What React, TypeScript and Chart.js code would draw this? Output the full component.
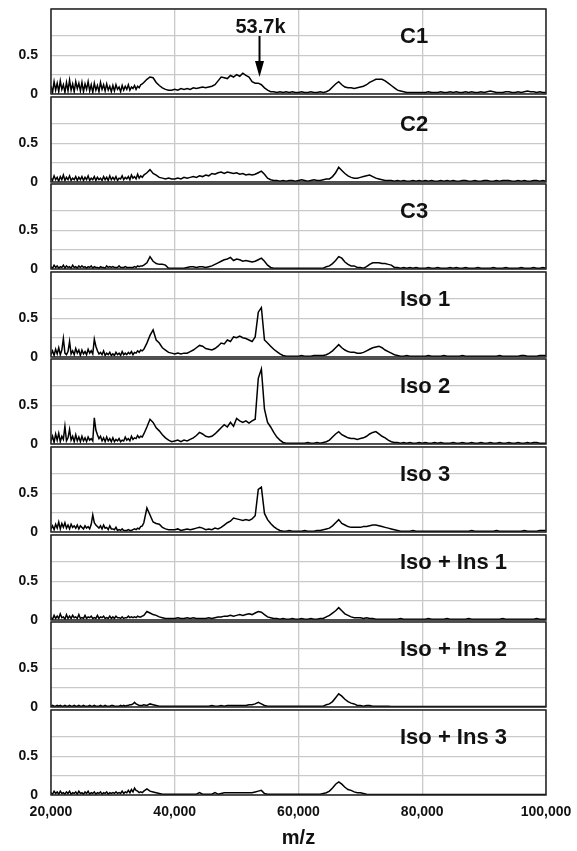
import React, { useEffect, useRef } from 'react';
import { Chart, registerables } from 'chart.js';

Chart.register(...registerables);

// m/z sampling positions (Da): 250 Da steps up to 34,750, then 500 Da steps
const MZ: number[] = [
  20000, 20250, 20500, 20750, 21000, 21250, 21500, 21750, 22000, 22250,
  22500, 22750, 23000, 23250, 23500, 23750, 24000, 24250, 24500, 24750,
  25000, 25250, 25500, 25750, 26000, 26250, 26500, 26750, 27000, 27250,
  27500, 27750, 28000, 28250, 28500, 28750, 29000, 29250, 29500, 29750,
  30000, 30250, 30500, 30750, 31000, 31250, 31500, 31750, 32000, 32250,
  32500, 32750, 33000, 33250, 33500, 33750, 34000, 34250, 34500, 34750,
  35000, 35500, 36000, 36500, 37000, 37500, 38000, 38500, 39000, 39500,
  40000, 40500, 41000, 41500, 42000, 42500, 43000, 43500, 44000, 44500,
  45000, 45500, 46000, 46500, 47000, 47500, 48000, 48500, 49000, 49500,
  50000, 50500, 51000, 51500, 52000, 52500, 53000, 53500, 54000, 54500,
  55000, 55500, 56000, 56500, 57000, 57500, 58000, 58500, 59000, 59500,
  60000, 60500, 61000, 61500, 62000, 62500, 63000, 63500, 64000, 64500,
  65000, 65500, 66000, 66500, 67000, 67500, 68000, 68500, 69000, 69500,
  70000, 70500, 71000, 71500, 72000, 72500, 73000, 73500, 74000, 74500,
  75000, 75500, 76000, 76500, 77000, 77500, 78000, 78500, 79000, 79500,
  80000, 80500, 81000, 81500, 82000, 82500, 83000, 83500, 84000, 84500,
  85000, 85500, 86000, 86500, 87000, 87500, 88000, 88500, 89000, 89500,
  90000, 90500, 91000, 91500, 92000, 92500, 93000, 93500, 94000, 94500,
  95000, 95500, 96000, 96500, 97000, 97500, 98000, 98500, 99000, 99500,
  100000,
];

const C1: number[] = [
  0.10, 0.02, 0.16, 0.05, 0.14, 0.03, 0.17, 0.06, 0.12, 0.02,
  0.15, 0.04, 0.18, 0.05, 0.13, 0.03, 0.16, 0.07, 0.14, 0.04,
  0.15, 0.03, 0.13, 0.06, 0.16, 0.04, 0.12, 0.02, 0.14, 0.05,
  0.11, 0.03, 0.15, 0.06, 0.12, 0.04, 0.13, 0.05, 0.10, 0.03,
  0.11, 0.04, 0.12, 0.06, 0.09, 0.03, 0.11, 0.05, 0.10, 0.06,
  0.12, 0.05, 0.09, 0.07, 0.11, 0.06, 0.10, 0.08, 0.12, 0.13,
  0.15, 0.19, 0.22, 0.21, 0.15, 0.11, 0.08, 0.06, 0.05, 0.05,
  0.06, 0.05, 0.07, 0.06, 0.07, 0.06, 0.08, 0.07, 0.08, 0.09,
  0.08, 0.09, 0.10, 0.12, 0.17, 0.22, 0.21, 0.20, 0.24, 0.22,
  0.25, 0.23, 0.27, 0.24, 0.22, 0.16, 0.14, 0.14, 0.12, 0.08,
  0.05, 0.03, 0.03, 0.02, 0.03, 0.02, 0.03, 0.02, 0.03, 0.02,
  0.02, 0.03, 0.02, 0.02, 0.03, 0.02, 0.02, 0.03, 0.02, 0.03,
  0.05, 0.09, 0.13, 0.16, 0.12, 0.09, 0.08, 0.08, 0.07, 0.08,
  0.09, 0.10, 0.12, 0.15, 0.17, 0.19, 0.19, 0.19, 0.17, 0.14,
  0.11, 0.08, 0.05, 0.04, 0.03, 0.02, 0.02, 0.02, 0.02, 0.02,
  0.02, 0.02, 0.03, 0.02, 0.02, 0.02, 0.03, 0.02, 0.02, 0.03,
  0.02, 0.03, 0.02, 0.02, 0.03, 0.02, 0.03, 0.02, 0.02, 0.03,
  0.02, 0.03, 0.04, 0.03, 0.02, 0.02, 0.02, 0.03, 0.03, 0.02,
  0.02, 0.03, 0.02, 0.03, 0.04, 0.03, 0.03, 0.02, 0.03, 0.02,
  0.02,
];

const C2: number[] = [
  0.05, 0.02, 0.08, 0.03, 0.06, 0.01, 0.07, 0.03, 0.09, 0.02,
  0.06, 0.03, 0.08, 0.02, 0.05, 0.03, 0.07, 0.02, 0.06, 0.03,
  0.07, 0.02, 0.06, 0.03, 0.08, 0.02, 0.05, 0.03, 0.07, 0.02,
  0.06, 0.03, 0.05, 0.02, 0.07, 0.03, 0.06, 0.02, 0.08, 0.03,
  0.06, 0.03, 0.07, 0.02, 0.05, 0.04, 0.08, 0.03, 0.06, 0.04,
  0.07, 0.03, 0.09, 0.05, 0.07, 0.04, 0.10, 0.05, 0.08, 0.06,
  0.09, 0.12, 0.16, 0.11, 0.09, 0.06, 0.05, 0.04, 0.05, 0.04,
  0.04, 0.05, 0.04, 0.06, 0.05, 0.06, 0.07, 0.06, 0.08, 0.07,
  0.09, 0.08, 0.11, 0.10, 0.12, 0.13, 0.11, 0.13, 0.12, 0.11,
  0.12, 0.10, 0.11, 0.09, 0.10, 0.09, 0.10, 0.12, 0.14, 0.10,
  0.05, 0.03, 0.02, 0.02, 0.01, 0.02, 0.01, 0.02, 0.02, 0.01,
  0.02, 0.03, 0.02, 0.01, 0.02, 0.03, 0.02, 0.02, 0.03, 0.04,
  0.04, 0.07, 0.12, 0.19, 0.15, 0.11, 0.08, 0.06, 0.05, 0.05,
  0.06, 0.07, 0.08, 0.09, 0.07, 0.05, 0.04, 0.03, 0.02, 0.02,
  0.02, 0.01, 0.02, 0.01, 0.02, 0.01, 0.01, 0.02, 0.01, 0.02,
  0.01, 0.02, 0.01, 0.02, 0.01, 0.01, 0.02, 0.01, 0.02, 0.01,
  0.02, 0.01, 0.01, 0.02, 0.02, 0.01, 0.01, 0.02, 0.01, 0.01,
  0.02, 0.02, 0.01, 0.01, 0.02, 0.01, 0.02, 0.02, 0.02, 0.01,
  0.01, 0.02, 0.01, 0.02, 0.01, 0.01, 0.02, 0.02, 0.01, 0.02,
  0.01,
];

const C3: number[] = [
  0.03, 0.01, 0.05, 0.02, 0.04, 0.01, 0.03, 0.02, 0.05, 0.01,
  0.04, 0.02, 0.03, 0.01, 0.05, 0.02, 0.03, 0.01, 0.04, 0.02,
  0.04, 0.02, 0.03, 0.01, 0.03, 0.02, 0.04, 0.01, 0.03, 0.02,
  0.02, 0.01, 0.03, 0.02, 0.02, 0.01, 0.04, 0.02, 0.03, 0.02,
  0.03, 0.02, 0.02, 0.02, 0.04, 0.02, 0.02, 0.02, 0.03, 0.02,
  0.02, 0.02, 0.02, 0.02, 0.03, 0.02, 0.04, 0.03, 0.04, 0.04,
  0.05, 0.08, 0.16, 0.10, 0.07, 0.06, 0.06, 0.05, 0.01, 0.01,
  0.01, 0.01, 0.01, 0.01, 0.02, 0.03, 0.03, 0.02, 0.03, 0.03,
  0.02, 0.03, 0.04, 0.06, 0.08, 0.10, 0.12, 0.13, 0.15, 0.11,
  0.13, 0.12, 0.10, 0.11, 0.10, 0.09, 0.10, 0.12, 0.14, 0.10,
  0.05, 0.02, 0.01, 0.01, 0.01, 0.01, 0.01, 0.01, 0.01, 0.01,
  0.01, 0.01, 0.01, 0.01, 0.01, 0.01, 0.01, 0.01, 0.01, 0.03,
  0.04, 0.07, 0.11, 0.16, 0.14, 0.09, 0.06, 0.04, 0.04, 0.02,
  0.02, 0.01, 0.03, 0.06, 0.08, 0.08, 0.08, 0.07, 0.07, 0.06,
  0.05, 0.02, 0.02, 0.01, 0.02, 0.01, 0.02, 0.01, 0.02, 0.01,
  0.01, 0.01, 0.02, 0.01, 0.01, 0.02, 0.01, 0.01, 0.01, 0.02,
  0.01, 0.02, 0.01, 0.01, 0.02, 0.01, 0.01, 0.01, 0.02, 0.01,
  0.01, 0.01, 0.01, 0.02, 0.01, 0.01, 0.01, 0.02, 0.01, 0.01,
  0.01, 0.01, 0.02, 0.01, 0.01, 0.01, 0.02, 0.01, 0.01, 0.02,
  0.01,
];

const ISO_1: number[] = [
  0.03, 0.08, 0.02, 0.10, 0.04, 0.12, 0.03, 0.09, 0.24, 0.05,
  0.03, 0.07, 0.20, 0.04, 0.08, 0.03, 0.11, 0.05, 0.09, 0.02,
  0.09, 0.04, 0.07, 0.03, 0.10, 0.05, 0.08, 0.04, 0.23, 0.14,
  0.08, 0.04, 0.06, 0.03, 0.08, 0.02, 0.05, 0.03, 0.06, 0.02,
  0.04, 0.02, 0.06, 0.03, 0.05, 0.02, 0.07, 0.03, 0.05, 0.03,
  0.06, 0.04, 0.07, 0.03, 0.06, 0.05, 0.08, 0.06, 0.09, 0.08,
  0.10, 0.18, 0.28, 0.35, 0.22, 0.18, 0.12, 0.09, 0.06, 0.05,
  0.04, 0.05, 0.04, 0.05, 0.05, 0.07, 0.09, 0.12, 0.15, 0.14,
  0.11, 0.10, 0.09, 0.11, 0.14, 0.18, 0.17, 0.22, 0.20, 0.26,
  0.25, 0.27, 0.25, 0.24, 0.22, 0.20, 0.26, 0.58, 0.64, 0.22,
  0.18, 0.14, 0.10, 0.07, 0.04, 0.02, 0.01, 0.01, 0.01, 0.01,
  0.01, 0.02, 0.01, 0.01, 0.01, 0.02, 0.02, 0.02, 0.02, 0.03,
  0.05, 0.08, 0.12, 0.16, 0.12, 0.09, 0.07, 0.06, 0.06, 0.05,
  0.05, 0.06, 0.08, 0.10, 0.12, 0.13, 0.14, 0.12, 0.09, 0.07,
  0.05, 0.03, 0.02, 0.01, 0.01, 0.02, 0.01, 0.01, 0.01, 0.01,
  0.01, 0.01, 0.02, 0.01, 0.01, 0.01, 0.01, 0.02, 0.01, 0.01,
  0.01, 0.01, 0.01, 0.02, 0.01, 0.01, 0.01, 0.01, 0.01, 0.01,
  0.01, 0.01, 0.01, 0.01, 0.01, 0.02, 0.01, 0.01, 0.01, 0.01,
  0.01, 0.01, 0.02, 0.02, 0.01, 0.01, 0.01, 0.01, 0.02, 0.02,
  0.02,
];

const ISO_2: number[] = [
  0.04, 0.10, 0.02, 0.13, 0.05, 0.14, 0.03, 0.10, 0.06, 0.23,
  0.04, 0.08, 0.19, 0.05, 0.10, 0.03, 0.12, 0.04, 0.09, 0.03,
  0.10, 0.04, 0.08, 0.03, 0.09, 0.05, 0.07, 0.04, 0.34, 0.18,
  0.12, 0.07, 0.10, 0.04, 0.08, 0.03, 0.09, 0.04, 0.07, 0.03,
  0.08, 0.03, 0.06, 0.04, 0.07, 0.03, 0.05, 0.04, 0.09, 0.05,
  0.07, 0.04, 0.10, 0.06, 0.08, 0.07, 0.11, 0.08, 0.10, 0.09,
  0.13, 0.22, 0.32, 0.28, 0.21, 0.17, 0.12, 0.08, 0.05, 0.03,
  0.04, 0.05, 0.03, 0.05, 0.04, 0.06, 0.08, 0.11, 0.15, 0.13,
  0.10, 0.09, 0.10, 0.13, 0.17, 0.21, 0.25, 0.22, 0.28, 0.23,
  0.33, 0.30, 0.28, 0.30, 0.27, 0.30, 0.32, 0.85, 0.97, 0.45,
  0.28, 0.22, 0.15, 0.09, 0.05, 0.02, 0.01, 0.01, 0.01, 0.01,
  0.01, 0.01, 0.01, 0.02, 0.01, 0.01, 0.02, 0.01, 0.02, 0.03,
  0.05, 0.09, 0.13, 0.16, 0.12, 0.10, 0.08, 0.07, 0.07, 0.06,
  0.07, 0.08, 0.10, 0.13, 0.15, 0.16, 0.13, 0.10, 0.08, 0.05,
  0.03, 0.02, 0.02, 0.01, 0.02, 0.01, 0.02, 0.01, 0.01, 0.02,
  0.01, 0.02, 0.01, 0.01, 0.02, 0.01, 0.02, 0.01, 0.01, 0.01,
  0.02, 0.01, 0.01, 0.02, 0.01, 0.01, 0.02, 0.01, 0.01, 0.02,
  0.01, 0.01, 0.02, 0.01, 0.01, 0.02, 0.01, 0.01, 0.02, 0.01,
  0.01, 0.02, 0.01, 0.01, 0.02, 0.01, 0.02, 0.02, 0.01, 0.01,
  0.01,
];

const ISO_3: number[] = [
  0.04, 0.08, 0.03, 0.10, 0.05, 0.13, 0.04, 0.11, 0.06, 0.12,
  0.05, 0.09, 0.04, 0.10, 0.06, 0.08, 0.05, 0.09, 0.04, 0.08,
  0.06, 0.04, 0.08, 0.05, 0.07, 0.04, 0.10, 0.22, 0.12, 0.09,
  0.07, 0.05, 0.08, 0.04, 0.09, 0.05, 0.06, 0.03, 0.08, 0.04,
  0.04, 0.03, 0.06, 0.02, 0.03, 0.02, 0.04, 0.02, 0.02, 0.02,
  0.03, 0.02, 0.02, 0.03, 0.04, 0.03, 0.05, 0.04, 0.07, 0.08,
  0.12, 0.31, 0.22, 0.13, 0.11, 0.10, 0.06, 0.04, 0.03, 0.03,
  0.03, 0.04, 0.02, 0.03, 0.04, 0.03, 0.04, 0.05, 0.06, 0.05,
  0.03, 0.04, 0.03, 0.05, 0.04, 0.06, 0.09, 0.12, 0.14, 0.18,
  0.17, 0.16, 0.15, 0.16, 0.15, 0.17, 0.21, 0.55, 0.58, 0.24,
  0.16, 0.11, 0.07, 0.04, 0.02, 0.01, 0.01, 0.02, 0.01, 0.01,
  0.01, 0.01, 0.02, 0.01, 0.01, 0.01, 0.02, 0.02, 0.03, 0.04,
  0.05, 0.08, 0.12, 0.16, 0.11, 0.09, 0.07, 0.06, 0.06, 0.06,
  0.06, 0.07, 0.07, 0.08, 0.09, 0.09, 0.08, 0.07, 0.06, 0.05,
  0.04, 0.03, 0.02, 0.01, 0.01, 0.01, 0.01, 0.02, 0.01, 0.01,
  0.01, 0.01, 0.01, 0.01, 0.01, 0.01, 0.01, 0.01, 0.01, 0.01,
  0.01, 0.01, 0.01, 0.01, 0.01, 0.01, 0.02, 0.01, 0.01, 0.01,
  0.01, 0.01, 0.01, 0.01, 0.02, 0.01, 0.01, 0.01, 0.01, 0.01,
  0.01, 0.01, 0.01, 0.02, 0.01, 0.01, 0.01, 0.01, 0.02, 0.02,
  0.02,
];

const ISO_INS_1: number[] = [
  0.03, 0.01, 0.06, 0.02, 0.05, 0.02, 0.08, 0.03, 0.04, 0.01,
  0.07, 0.02, 0.05, 0.02, 0.06, 0.03, 0.04, 0.02, 0.07, 0.02,
  0.03, 0.02, 0.06, 0.02, 0.04, 0.03, 0.05, 0.02, 0.03, 0.02,
  0.06, 0.02, 0.04, 0.03, 0.05, 0.02, 0.03, 0.02, 0.05, 0.02,
  0.04, 0.02, 0.05, 0.03, 0.03, 0.02, 0.04, 0.02, 0.03, 0.03,
  0.05, 0.03, 0.04, 0.03, 0.04, 0.03, 0.05, 0.04, 0.04, 0.05,
  0.06, 0.11, 0.09, 0.07, 0.06, 0.04, 0.03, 0.02, 0.02, 0.02,
  0.02, 0.03, 0.02, 0.02, 0.03, 0.02, 0.03, 0.02, 0.02, 0.02,
  0.02, 0.03, 0.02, 0.03, 0.04, 0.04, 0.05, 0.05, 0.06, 0.05,
  0.06, 0.07, 0.06, 0.07, 0.08, 0.07, 0.09, 0.11, 0.10, 0.07,
  0.04, 0.03, 0.02, 0.02, 0.01, 0.02, 0.01, 0.01, 0.02, 0.01,
  0.01, 0.02, 0.01, 0.01, 0.02, 0.01, 0.01, 0.02, 0.02, 0.04,
  0.06, 0.09, 0.12, 0.16, 0.12, 0.08, 0.06, 0.04, 0.03, 0.03,
  0.03, 0.02, 0.03, 0.02, 0.02, 0.01, 0.01, 0.01, 0.01, 0.01,
  0.01, 0.01, 0.01, 0.02, 0.01, 0.01, 0.01, 0.01, 0.01, 0.01,
  0.01, 0.01, 0.02, 0.01, 0.01, 0.01, 0.01, 0.01, 0.02, 0.01,
  0.01, 0.01, 0.01, 0.01, 0.01, 0.02, 0.01, 0.01, 0.01, 0.01,
  0.01, 0.01, 0.01, 0.01, 0.01, 0.01, 0.02, 0.01, 0.01, 0.01,
  0.01, 0.01, 0.01, 0.01, 0.01, 0.01, 0.01, 0.02, 0.01, 0.01,
  0.01,
];

const ISO_INS_2: number[] = [
  0.01, 0.02, 0.01, 0.01, 0.02, 0.01, 0.02, 0.01, 0.01, 0.02,
  0.01, 0.01, 0.02, 0.01, 0.01, 0.02, 0.01, 0.01, 0.02, 0.01,
  0.01, 0.02, 0.01, 0.01, 0.01, 0.02, 0.01, 0.01, 0.02, 0.01,
  0.01, 0.01, 0.02, 0.01, 0.01, 0.02, 0.01, 0.01, 0.01, 0.02,
  0.02, 0.01, 0.01, 0.01, 0.01, 0.02, 0.01, 0.02, 0.01, 0.02,
  0.02, 0.03, 0.03, 0.04, 0.06, 0.04, 0.03, 0.02, 0.02, 0.02,
  0.03, 0.02, 0.04, 0.03, 0.02, 0.01, 0.01, 0.01, 0.01, 0.01,
  0.01, 0.01, 0.01, 0.01, 0.01, 0.01, 0.01, 0.01, 0.01, 0.01,
  0.01, 0.01, 0.02, 0.01, 0.01, 0.02, 0.01, 0.02, 0.02, 0.02,
  0.02, 0.02, 0.02, 0.02, 0.03, 0.03, 0.04, 0.06, 0.04, 0.02,
  0.01, 0.01, 0.01, 0.01, 0.01, 0.01, 0.01, 0.01, 0.01, 0.01,
  0.01, 0.01, 0.01, 0.01, 0.01, 0.01, 0.01, 0.01, 0.01, 0.03,
  0.04, 0.07, 0.12, 0.17, 0.14, 0.10, 0.07, 0.05, 0.04, 0.02,
  0.02, 0.01, 0.02, 0.02, 0.01, 0.01, 0.01, 0.01, 0.01, 0.01,
  0.005, 0.005, 0.005, 0.005, 0.005, 0.005, 0.005, 0.005, 0.005, 0.005,
  0.005, 0.005, 0.005, 0.005, 0.005, 0.005, 0.005, 0.005, 0.005, 0.005,
  0.005, 0.005, 0.005, 0.005, 0.005, 0.005, 0.005, 0.005, 0.005, 0.005,
  0.005, 0.005, 0.005, 0.005, 0.005, 0.005, 0.005, 0.005, 0.005, 0.005,
  0.005, 0.005, 0.005, 0.005, 0.005, 0.005, 0.005, 0.005, 0.005, 0.005,
  0.005,
];

const ISO_INS_3: number[] = [
  0.03, 0.01, 0.05, 0.02, 0.04, 0.01, 0.05, 0.02, 0.03, 0.01,
  0.04, 0.02, 0.05, 0.01, 0.03, 0.02, 0.04, 0.01, 0.05, 0.02,
  0.03, 0.01, 0.04, 0.02, 0.05, 0.01, 0.03, 0.02, 0.04, 0.01,
  0.03, 0.02, 0.04, 0.01, 0.03, 0.02, 0.04, 0.01, 0.03, 0.02,
  0.03, 0.02, 0.04, 0.02, 0.03, 0.02, 0.05, 0.02, 0.04, 0.03,
  0.06, 0.03, 0.07, 0.04, 0.09, 0.06, 0.05, 0.03, 0.04, 0.03,
  0.05, 0.08, 0.05, 0.04, 0.03, 0.02, 0.01, 0.01, 0.01, 0.01,
  0.01, 0.01, 0.01, 0.01, 0.01, 0.01, 0.01, 0.01, 0.03, 0.01,
  0.01, 0.01, 0.01, 0.03, 0.01, 0.02, 0.03, 0.03, 0.03, 0.03,
  0.03, 0.03, 0.03, 0.03, 0.03, 0.03, 0.04, 0.05, 0.06, 0.02,
  0.01, 0.01, 0.01, 0.01, 0.01, 0.01, 0.01, 0.01, 0.01, 0.01,
  0.01, 0.01, 0.01, 0.01, 0.01, 0.01, 0.01, 0.01, 0.02, 0.03,
  0.05, 0.09, 0.14, 0.17, 0.14, 0.10, 0.07, 0.06, 0.04, 0.03,
  0.03, 0.02, 0.01, 0.005, 0.005, 0.005, 0.005, 0.005, 0.005, 0.005,
  0.005, 0.005, 0.005, 0.005, 0.005, 0.005, 0.005, 0.005, 0.005, 0.005,
  0.005, 0.005, 0.005, 0.005, 0.005, 0.005, 0.005, 0.005, 0.005, 0.005,
  0.005, 0.005, 0.005, 0.005, 0.005, 0.005, 0.005, 0.005, 0.005, 0.005,
  0.005, 0.005, 0.005, 0.005, 0.005, 0.005, 0.005, 0.005, 0.005, 0.005,
  0.005, 0.005, 0.005, 0.005, 0.005, 0.005, 0.005, 0.005, 0.005, 0.005,
  0.005,
];

const PANEL_LABELS: string[] = ['C1', 'C2', 'C3', 'Iso 1', 'Iso 2', 'Iso 3', 'Iso + Ins 1', 'Iso + Ins 2', 'Iso + Ins 3'];
const PANEL_SERIES: number[][] = [C1, C2, C3, ISO_1, ISO_2, ISO_3, ISO_INS_1, ISO_INS_2, ISO_INS_3];
const X_TICKS: number[] = [20000, 40000, 60000, 80000, 100000];
const Y_LABELLED: number[] = [0, 0.5];
const Y_STEP = 0.25;
const Y_MAX = 1.1;
const X_MIN = 20000;
const X_MAX = 100000;
const X_TITLE = 'm/z';
const ANNOT_MZ = 53700;
const ANNOT_TIP = 0.22;
const ANNOT_LABEL = '53.7k';

// layout (pixels)
const FONT = '"Liberation Sans", Arial, Helvetica, sans-serif';
const PAGE_W = 577;
const PAGE_H = 851;
const PLOT_LEFT = 51;
const PLOT_RIGHT_PAD = 31;
const FIRST_TOP = 9;
const PITCH = 87.6;
const PANEL_H = 85;
const PAD = 12;
const GRID = '#c9c9c9';

const panelPlugin = {
  id: 'panelDecor',
  afterDatasetsDraw(chart: any, _args: any, opts: any) {
    const { ctx, chartArea: a } = chart;
    ctx.save();
    ctx.strokeStyle = '#222';
    ctx.lineWidth = 1.5;
    ctx.strokeRect(a.left, a.top, a.right - a.left, a.bottom - a.top);
    ctx.fillStyle = '#111';
    ctx.font = `bold 22px ${FONT}`;
    ctx.textAlign = 'left';
    ctx.textBaseline = 'alphabetic';
    ctx.fillText(opts.label, a.left + 349, a.top + 34);
    if (opts.annotate) {
      const x = chart.scales.x.getPixelForValue(ANNOT_MZ);
      const tip = chart.scales.y.getPixelForValue(ANNOT_TIP);
      ctx.strokeStyle = '#000';
      ctx.fillStyle = '#000';
      ctx.lineWidth = 2;
      ctx.beginPath();
      ctx.moveTo(x, a.top + 27);
      ctx.lineTo(x, tip - 14);
      ctx.stroke();
      ctx.beginPath();
      ctx.moveTo(x - 4.5, tip - 16);
      ctx.lineTo(x + 4.5, tip - 16);
      ctx.lineTo(x, tip);
      ctx.closePath();
      ctx.fill();
      ctx.fillStyle = '#111';
      ctx.font = `bold 20px ${FONT}`;
      ctx.textAlign = 'center';
      ctx.fillText(ANNOT_LABEL, x + 1, a.top + 24);
    }
    ctx.restore();
  },
};

function panelGeom(i: number) {
  const top = Math.round(FIRST_TOP + PITCH * i);
  const isLast = i === PANEL_LABELS.length - 1;
  const canvasTop = top - PAD;
  const canvasH = isLast ? PAGE_H - canvasTop : PANEL_H + 2 * PAD;
  const axisH = isLast ? PAGE_H - (top + PANEL_H) : 0;
  return { top, isLast, canvasTop, canvasH, axisH };
}

export default function App() {
  const refs = useRef<(HTMLCanvasElement | null)[]>([]);

  useEffect(() => {
    Chart.defaults.font.family = FONT;
    Chart.defaults.color = '#111';
    const charts: Chart[] = [];
    PANEL_LABELS.forEach((label, i) => {
      const canvas = refs.current[i];
      if (!canvas) return;
      const g = panelGeom(i);
      const series = PANEL_SERIES[i];
      const chart = new Chart(canvas, {
        type: 'line',
        data: {
          datasets: [
            {
              label,
              data: MZ.map((x, k) => ({ x, y: series[k] })),
              borderColor: '#000',
              borderWidth: 1.5,
              pointRadius: 0,
              tension: 0,
              fill: false,
            },
          ],
        },
        options: {
          animation: false,
          responsive: false,
          devicePixelRatio: 1,
          events: [],
          layout: { padding: { left: 0, right: PLOT_RIGHT_PAD, top: PAD, bottom: g.isLast ? 0 : PAD } },
          plugins: {
            legend: { display: false },
            tooltip: { enabled: false },
            panelDecor: { label, annotate: i === 0 },
          } as any,
          scales: {
            x: {
              type: 'linear',
              min: X_MIN,
              max: X_MAX,
              afterBuildTicks: (s: any) => {
                s.ticks = X_TICKS.map((v) => ({ value: v }));
              },
              afterFit: (s: any) => {
                s.height = g.axisH;
                s.paddingLeft = 0;
                s.paddingRight = 0;
              },
              grid: { color: GRID, lineWidth: 1.3, drawTicks: false },
              border: { display: false },
              ticks: {
                display: g.isLast,
                padding: 9,
                maxRotation: 0,
                autoSkip: false,
                color: '#111',
                font: { family: FONT, size: 14, weight: 'bold' },
                callback: (v: any) => Number(v).toLocaleString('en-US'),
              },
              title: {
                display: g.isLast,
                text: X_TITLE,
                color: '#111',
                font: { family: FONT, size: 20, weight: 'bold' },
                padding: { top: 0, bottom: 1 },
              },
            },
            y: {
              type: 'linear',
              min: 0,
              max: Y_MAX,
              afterFit: (s: any) => {
                s.width = PLOT_LEFT;
                s.paddingTop = 0;
                s.paddingBottom = 0;
              },
              grid: { color: GRID, lineWidth: 1.3, drawTicks: false },
              border: { display: false },
              ticks: {
                stepSize: Y_STEP,
                autoSkip: false,
                padding: 13,
                color: '#111',
                font: { family: FONT, size: 14, weight: 'bold' },
                callback: (v: any) => {
                  const n = Number(v);
                  const hit = Y_LABELLED.find((t) => Math.abs(t - n) < 1e-6);
                  return hit === undefined ? '' : String(hit);
                },
              },
            },
          },
        } as any,
        plugins: [panelPlugin as any],
      });
      charts.push(chart);
    });
    return () => {
      charts.forEach((c) => c.destroy());
    };
  }, []);

  return (
    <div style={{ position: 'absolute', left: 0, top: 0, width: PAGE_W, height: PAGE_H, background: '#fff' }}>
      {PANEL_LABELS.map((label, i) => {
        const g = panelGeom(i);
        return (
          <canvas
            key={label}
            ref={(el) => {
              refs.current[i] = el;
            }}
            width={PAGE_W}
            height={g.canvasH}
            style={{ position: 'absolute', left: 0, top: g.canvasTop, width: PAGE_W, height: g.canvasH }}
          />
        );
      })}
    </div>
  );
}
